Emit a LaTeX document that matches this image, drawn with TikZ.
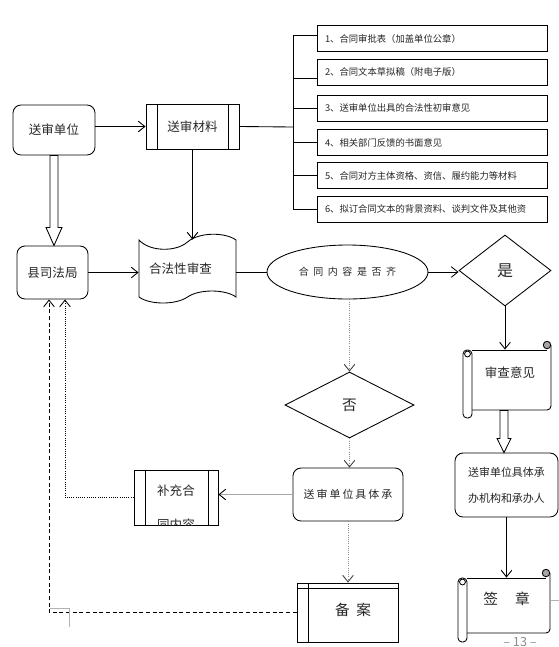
\documentclass[tikz,border=0pt]{standalone}
\usepackage{fontspec}
\setmainfont{Noto Sans CJK SC}
\usetikzlibrary{arrows.meta,shapes.geometric,calc}
\newcommand\gapA{\hspace{3.4pt}}
\begin{document}
\begin{tikzpicture}[x=0.75pt,y=-0.75pt,
  line width=0.65pt,
  every node/.style={inner sep=0pt, text=black!85},
  ft/.style={font=\fontsize{9.4}{11}\selectfont},
  rbox/.style={draw, rounded corners=6pt, ft},
  pbox/.style={draw, ft},
  lbox/.style={draw, minimum height=19.5pt, text width=160.5pt, align=left, inner xsep=6pt, font=\fontsize{7}{8}\selectfont},
  arr/.style={-{Straight Barb[length=5pt,width=8pt]}},
  garr/.style={draw=black!45, densely dotted, -{Straight Barb[length=5pt,width=8pt,color=black!75]}},
  lgarr/.style={draw=black!35, -{Straight Barb[length=5pt,width=8pt,color=black]}},
  hollow/.style={draw, fill=white},
  scr/.style={draw},
]
\useasboundingbox (0,0) rectangle (559,647);

% top row
\node[rbox, minimum width=61.5pt, minimum height=37.5pt] (su) at (54,130) {送审单位};
\node[pbox, minimum width=69.75pt, minimum height=33.75pt] (cl) at (192.5,126.5) {送审材料};
\draw ($(cl.north west)+(12,0)$) -- ($(cl.south west)+(12,0)$);
\draw ($(cl.north east)+(-11,0)$) -- ($(cl.south east)+(-11,0)$);
\draw[arr] (su.east |- cl.west) -- (cl.west);

% list of materials
\node[lbox] (b1) at (432,38.5) {1、合同审批表（加盖单位公章）};
\node[lbox] (b2) at (432,72) {2、合同文本草拟稿（附电子版）};
\node[lbox] (b3) at (432,108) {3、送审单位出具的合法性初审意见};
\node[lbox] (b4) at (432,142.5) {4、相关部门反馈的书面意见};
\node[lbox] (b5) at (432,175.5) {5、合同对方主体资格、资信、履约能力等材料};
\node[lbox] (b6) at (432,209) {6、拟订合同文本的背景资料、谈判文件及其他资};
\coordinate (bus) at (293,127);
\draw (cl.east) -- (bus);
\draw ($(bus |- b1.west)+(0,-3)$) -- (bus |- b6.west);
\draw ($(bus |- b1.west)+(0,-3)$) -- ($(b1.west)+(0,-3)$);
\draw ($(bus |- b2.west)+(0,6)$) -- ($(b2.west)+(0,6)$);
\foreach \b in {b3,b4,b5,b6} \draw (bus |- \b.west) -- (\b.west);

% second row
\node[rbox, minimum width=53.25pt, minimum height=39.75pt] (xj) at (52.5,272.5) {县司法局};
\draw[hollow] ($(su.south)+(-4,0)$) -- ($(su.south)+(4,0)$) -- ($(su.south)+(4,72)$) -- ($(su.south)+(8,72)$) -- (su.south |- xj.north) -- ($(su.south)+(-8,72)$) -- ($(su.south)+(-4,72)$) -- cycle;

\node[ft, minimum width=72.75pt, minimum height=43.5pt] (hf) at (187.5,269) {合法性审查\hspace*{10.5pt}};
\draw (139,240) .. controls (150,252) and (176,252) .. (187.5,242) .. controls (199,232) and (225,232) .. (236,240)
  -- (236,297) .. controls (225,289) and (199,289) .. (187.5,297) .. controls (176,305) and (150,305) .. (139,297) -- cycle;
\draw[arr] (xj.east) -- (xj.east -| hf.west);
\draw[arr] (cl.south) -- (cl.south |- hf.north);

\node[ellipse, draw, minimum width=120.75pt, minimum height=40.5pt, font=\fontsize{7.5}{9}\selectfont] (el) at (347.5,272) {合\gapA 同\gapA 内\gapA 容\gapA 是\gapA 否\gapA 齐};
\draw (el.west -| hf.east) -- (el.west);

\node[diamond, draw, minimum width=69pt, minimum height=53.25pt, font=\fontsize{12}{14}\selectfont] (yes) at (505,270.5) {是};
\draw[arr] (el.east) -- (el.east -| yes.west);

% review opinion scroll
\node[minimum width=66pt, minimum height=45pt] (sc) at (507,380) {};
\draw[scr, rounded corners=3pt] (463,350) rectangle (472,418);
\draw[scr] (467.5,354) circle[radius=2.2pt];
\draw[scr] (472,350) -- (547,350);
\draw[scr, rounded corners=3pt] (551,345) -- (551,410) -- (472,410);
\draw[scr, fill=black!35] (547,345) circle[radius=2.8pt];
\node[ft] (scT) at (510,373) {审查意见};
\draw[arr] (yes.south) -- (yes.south |- sc.north);

% unit box right
\node[rbox, minimum width=77.25pt, minimum height=48pt, align=left, font=\fontsize{8.2}{19.5}\selectfont] (cb) at (506.5,485) {送审单位具体承\\办机构和承办人};
\coordinate (h2) at ($(sc.south)+(-3,0)$);
\draw[hollow] ($(h2)+(-4,0)$) -- ($(h2)+(4,0)$) -- ($(h2)+(4,28)$) -- ($(h2)+(7,28)$) -- (h2 |- cb.north) -- ($(h2)+(-7,28)$) -- ($(h2)+(-4,28)$) -- cycle;

% seal scroll
\node[minimum width=69pt, minimum height=41.25pt] (sg) at (504,605.5) {};
\draw[scr, rounded corners=3pt] (458,578) rectangle (467,642);
\draw[scr] (462.5,582) circle[radius=2.2pt];
\draw[scr] (467,578) -- (546,578);
\draw[scr, rounded corners=3pt] (550,573) -- (550,633) -- (467,633);
\draw[scr, fill=black!35] (546,573) circle[radius=2.8pt];
\node[font=\fontsize{11}{13}\selectfont] (sgT) at (506.5,599) {签\hspace{12.75pt}章};
\draw[arr] (cb.south) -- (cb.south |- sg.north);

% no branch
\node[diamond, draw, minimum width=96.75pt, minimum height=49.5pt, font=\fontsize{11}{13}\selectfont] (no) at (349.5,405) {否};
\draw[garr] (no.north |- el.south) -- (no.north);

\node[rbox, minimum width=82.5pt, minimum height=39.75pt, font=\fontsize{8.2}{10}\selectfont] (bx) at (348,494.5) {送\hspace{1.5pt}审\hspace{1.5pt}单\hspace{1.5pt}位\hspace{1.5pt}具\hspace{1.5pt}体\hspace{1.5pt}承};
\draw[garr] (no.south) -- (no.south |- bx.north);

\node[draw, minimum width=63pt, minimum height=41.25pt] (bc) at (176,497.5) {};
\draw ($(bc.north west)+(12,0)$) -- ($(bc.south west)+(12,0)$);
\draw ($(bc.north east)+(-10,0)$) -- ($(bc.south east)+(-10,0)$);
\begin{scope}
  \clip (bc.south west) rectangle (bc.north east);
  \node[ft] (bcT) at (176,491) {补充合};
  \node[ft] (bcT2) at (176,524.5) {同内容};
\end{scope}
\draw[lgarr] (bx.west) -- (bx.west -| bc.east);

\node[draw, minimum width=75.75pt, minimum height=44.25pt] (ba) at (347.5,612.5) {};
\draw ($(ba.north west)+(12,0)$) -- ($(ba.south west)+(12,0)$);
\draw ($(ba.north west)+(0,6)$) -- ($(ba.north east)+(0,6)$);
\node[font=\fontsize{11}{13}\selectfont] (baT) at (353,610) {备\hspace{5pt}案};
\draw[garr] (bx.south) -- (bx.south |- ba.north);

% feedback lines
\draw[densely dotted, arr] (bc.west) -| ($(xj.south)+(12.5,0)$);
\draw[dash pattern=on 3pt off 2pt, arr] (ba.west) -| ($(xj.south)+(-3.5,0)$);

% page marks
\draw[black!30, line width=0.6pt] (50,608) -- (69,608) -- (69,627);
\draw[black!30, line width=0.6pt] (550,600) -- (559,600);
\node[text=black!45, font=\fontsize{9.5}{11}\selectfont] (pg) at (520,642) {– 13 –};
\end{tikzpicture}
\end{document}
